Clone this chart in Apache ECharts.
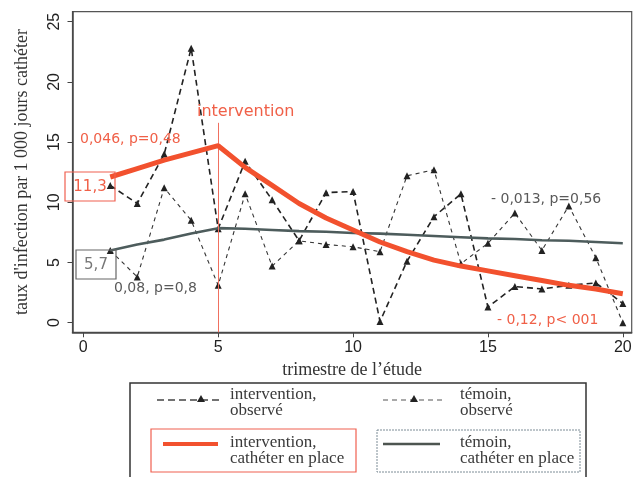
<!DOCTYPE html>
<html>
<head>
<meta charset="utf-8">
<script src="https://cdn.jsdelivr.net/npm/echarts@6/dist/echarts.min.js"></script>
<style>html,body{margin:0;padding:0;background:#fff}#c{width:640px;height:477px}</style>
</head>
<body>
<div id="c"></div>
<script>
// ---- data ----
var quarters = [1,2,3,4,5,6,7,8,9,10,11,12,13,14,15,16,17,18,19,20];
var intervObs = [11.4, 9.9, 14.0, 22.8, 7.8, 13.4, 10.2, 6.8, 10.8, 10.9, 0.1, 5.1, 8.8, 10.7, 1.3, 3.0, 2.8, 3.1, 3.3, 1.6];
var temoinObs = [6.0, 3.8, 11.2, 8.5, 3.1, 10.7, 4.7, 6.8, 6.5, 6.3, 5.9, 12.2, 12.7, 4.9, 6.6, 9.1, 6.0, 9.7, 5.4, 0.0];
var intervModel = [12.1, 12.8, 13.5, 14.1, 14.7, 12.9, 11.4, 9.9, 8.7, 7.7, 6.7, 5.9, 5.2, 4.7, 4.3, 3.9, 3.5, 3.1, 2.8, 2.4];
var temoinModel = [6.0, 6.5, 6.9, 7.4, 7.85, 7.8, 7.7, 7.6, 7.55, 7.45, 7.4, 7.3, 7.2, 7.1, 7.0, 6.95, 6.85, 6.8, 6.7, 6.6];
var xTicks = [0, 5, 10, 15, 20];
var yTicks = [0, 5, 10, 15, 20, 25];
var interventionQuarter = 5;

function pairs(ys){ return quarters.map(function(q,i){ return [q, ys[i]]; }); }

var RED = '#f2512e', REDTXT = '#f06048', GRAYTXT = '#5a5a5a';
var SERIF = 'Liberation Serif';
var yMin = -0.8, yMax = 25.83;

var chart = echarts.init(document.getElementById('c'), null, {renderer:'canvas'});
var option = {
  animation: false,
  backgroundColor: '#fff',
  grid: {left: 72.5, right: 8.3, top: 11.7, bottom: 144.7, show: true, borderColor: '#555', borderWidth: 1.2},
  xAxis: {
    type: 'value', min: -0.4, max: 20.33,
    axisLine: {show: true, onZero: false, lineStyle: {color: '#444', width: 1.5}},
    axisTick: {show: true, length: 5, customValues: xTicks, lineStyle: {color: '#444'}},
    axisLabel: {customValues: xTicks, fontFamily: 'Liberation Sans', fontSize: 16, color: '#222', margin: 7},
    splitLine: {show: false},
    name: 'trimestre de l\u2019\u00e9tude', nameLocation: 'middle', nameGap: 29,
    nameTextStyle: {fontFamily: SERIF, fontSize: 18, color: '#333'}
  },
  yAxis: {
    type: 'value', min: yMin, max: yMax,
    axisLine: {show: true, onZero: false, lineStyle: {color: '#444', width: 1.5}},
    axisTick: {show: true, length: 5, customValues: yTicks, lineStyle: {color: '#444'}},
    axisLabel: {customValues: yTicks, rotate: 90, fontFamily: 'Liberation Sans', fontSize: 16, color: '#222', margin: 10},
    splitLine: {show: false},
    name: 'taux d\'infection par 1 000 jours cath\u00e9ter', nameLocation: 'middle', nameGap: 41, nameRotate: 90,
    nameTextStyle: {fontFamily: SERIF, fontSize: 18, color: '#333'}
  },
  series: [
    {
      name: 'intervention, observ\u00e9', type: 'line', data: pairs(intervObs), z: 3,
      symbol: 'triangle', symbolSize: 7, itemStyle: {color: '#222'},
      lineStyle: {color: '#222', width: 1.6, type: [6, 4]}
    },
    {
      name: 't\u00e9moin, observ\u00e9', type: 'line', data: pairs(temoinObs), z: 3,
      symbol: 'triangle', symbolSize: 7, itemStyle: {color: '#222'},
      lineStyle: {color: '#333', width: 1.1, type: [4, 4]}
    },
    {
      name: 't\u00e9moin, cath\u00e9ter en place', type: 'line', data: pairs(temoinModel), z: 4,
      symbol: 'none', lineStyle: {color: '#4d5c5c', width: 2.6}
    },
    {
      name: 'intervention, cath\u00e9ter en place', type: 'line', data: pairs(intervModel), z: 5,
      symbol: 'none', lineStyle: {color: RED, width: 5},
      markLine: {
        silent: true, symbol: ['none', 'arrow'], symbolSize: [0, 8], label: {show: false},
        lineStyle: {color: '#f07060', width: 1, type: 'solid'},
        data: [[{coord: [interventionQuarter, yMin]}, {coord: [interventionQuarter, 16.6]}]]
      }
    }
  ],
  graphic: [
    {type: 'text', x: 197, y: 112, z: 10, style: {text: 'intervention', font: '16px "DejaVu Sans"', fill: REDTXT, verticalAlign: 'middle'}},
    {type: 'text', x: 80, y: 139, z: 10, style: {text: '0,046, p=0,48', font: '14px "DejaVu Sans"', fill: REDTXT, verticalAlign: 'middle'}},
    {type: 'rect', z: 10, shape: {x: 65, y: 172, width: 50, height: 29}, style: {fill: 'none', stroke: '#f06050', lineWidth: 1.2}},
    {type: 'text', x: 90, y: 187, z: 10, style: {text: '11,3', font: '15px "DejaVu Sans"', fill: REDTXT, align: 'center', verticalAlign: 'middle'}},
    {type: 'rect', z: 10, shape: {x: 76, y: 250, width: 40, height: 29}, style: {fill: 'none', stroke: '#666', lineWidth: 1.2}},
    {type: 'text', x: 96, y: 265, z: 10, style: {text: '5,7', font: '15px "DejaVu Sans"', fill: '#777', align: 'center', verticalAlign: 'middle'}},
    {type: 'text', x: 114, y: 288, z: 10, style: {text: '0,08, p=0,8', font: '14px "DejaVu Sans"', fill: GRAYTXT, verticalAlign: 'middle'}},
    {type: 'text', x: 491, y: 199, z: 10, style: {text: '- 0,013, p=0,56', font: '14px "DejaVu Sans"', fill: GRAYTXT, verticalAlign: 'middle'}},
    {type: 'text', x: 497, y: 320, z: 10, style: {text: '- 0,12, p< 001', font: '14px "DejaVu Sans"', fill: REDTXT, verticalAlign: 'middle'}},
    // legend frame
    {type: 'rect', z: 10, shape: {x: 130, y: 383, width: 456, height: 120}, style: {fill: 'none', stroke: '#333', lineWidth: 1.5}},
    {type: 'rect', z: 10, shape: {x: 151, y: 429, width: 205, height: 43}, style: {fill: 'none', stroke: '#f06050', lineWidth: 1.2}},
    {type: 'rect', z: 10, shape: {x: 377, y: 430, width: 203, height: 42}, style: {fill: 'none', stroke: '#7d8c96', lineWidth: 1, lineDash: [2, 1]}},
    {type: 'line', z: 10, shape: {x1: 157, y1: 400, x2: 220, y2: 400}, style: {stroke: '#444', lineWidth: 1.6, lineDash: [7, 4]}},
    {type: 'polygon', z: 11, shape: {points: [[201, 395], [197, 402], [205, 402]]}, style: {fill: '#222'}},
    {type: 'line', z: 10, shape: {x1: 383, y1: 400, x2: 443, y2: 400}, style: {stroke: '#555', lineWidth: 1.1, lineDash: [5, 4]}},
    {type: 'polygon', z: 11, shape: {points: [[414, 395], [410, 402], [418, 402]]}, style: {fill: '#222'}},
    {type: 'line', z: 10, shape: {x1: 163, y1: 444, x2: 218, y2: 444}, style: {stroke: RED, lineWidth: 4}},
    {type: 'line', z: 10, shape: {x1: 383, y1: 444, x2: 440, y2: 444}, style: {stroke: '#4d5550', lineWidth: 2.5}},
    {type: 'text', x: 230, y: 403, z: 10, style: {text: 'intervention,\nobserv\u00e9', font: '17px "Liberation Serif"', fill: '#3a3a3a', verticalAlign: 'middle', lineHeight: 16}},
    {type: 'text', x: 460, y: 403, z: 10, style: {text: 't\u00e9moin,\nobserv\u00e9', font: '17px "Liberation Serif"', fill: '#3a3a3a', verticalAlign: 'middle', lineHeight: 16}},
    {type: 'text', x: 230, y: 451, z: 10, style: {text: 'intervention,\ncath\u00e9ter en place', font: '17px "Liberation Serif"', fill: '#3a3a3a', verticalAlign: 'middle', lineHeight: 16}},
    {type: 'text', x: 460, y: 451, z: 10, style: {text: 't\u00e9moin,\ncath\u00e9ter en place', font: '17px "Liberation Serif"', fill: '#3a3a3a', verticalAlign: 'middle', lineHeight: 16}}
  ]
};
chart.setOption(option);
</script>
</body>
</html>
